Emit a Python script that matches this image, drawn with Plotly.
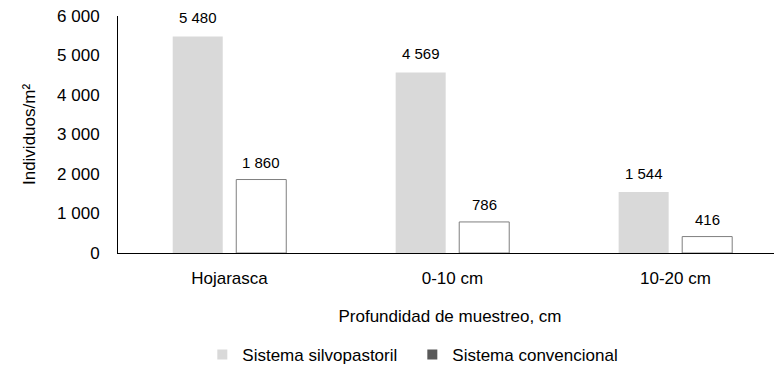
import plotly.graph_objects as go

categories = ["Hojarasca", "0-10 cm", "10-20 cm"]
silvopastoril = [5480, 4569, 1544]
convencional = [1860, 786, 416]
series_names = ["Sistema silvopastoril", "Sistema convencional"]
y_ticks = [0, 1000, 2000, 3000, 4000, 5000, 6000]

font_family = "Liberation Sans, Arial, sans-serif"
silvo_color = "#d9d9d9"
conv_fill = "#ffffff"
conv_line = "#7f7f7f"
conv_legend = "#595959"


def fmt(v):
    return f"{v:,}".replace(",", " ")


fig = go.Figure()
fig.add_trace(go.Bar(
    x=categories, y=silvopastoril, name=series_names[0],
    marker=dict(color=silvo_color, line=dict(width=0)),
    showlegend=False,
))
fig.add_trace(go.Bar(
    x=categories, y=convencional, name=series_names[1],
    marker=dict(color=conv_fill, line=dict(width=1, color=conv_line)),
    showlegend=False,
))
# legend entries (square swatches as in the reference)
fig.add_trace(go.Scatter(
    x=[None], y=[None], mode="markers", name=series_names[0],
    marker=dict(symbol="square", size=10, color=silvo_color), showlegend=True,
))
fig.add_trace(go.Scatter(
    x=[None], y=[None], mode="markers", name=series_names[1],
    marker=dict(symbol="square", size=10, color=conv_legend), showlegend=True,
))

# value labels above bars
group_shift = 31.75
for cat, v in zip(categories, silvopastoril):
    fig.add_annotation(x=cat, y=v, text=fmt(v), showarrow=False,
                       xshift=-group_shift, yshift=19, yanchor="middle",
                       font=dict(size=15, color="#000000"))
for cat, v in zip(categories, convencional):
    fig.add_annotation(x=cat, y=v, text=fmt(v), showarrow=False,
                       xshift=group_shift, yshift=17, yanchor="middle",
                       font=dict(size=15, color="#000000"))

# the page body has an 8px default margin, so the figure is 8px smaller
fig.update_layout(
    width=774, height=362,
    margin=dict(l=110, r=0, t=8, b=117, autoexpand=False),
    paper_bgcolor="white", plot_bgcolor="white",
    separators=", ",
    font=dict(family=font_family, size=17, color="#000000"),
    barmode="group", bargap=0.43, bargroupgap=0.213,
    showlegend=True,
    legend=dict(
        orientation="h", x=0.127, xanchor="left", y=-0.43, yanchor="middle",
        font=dict(size=17), traceorder="normal",
        entrywidth=165, entrywidthmode="pixels",
        bgcolor="rgba(0,0,0,0)",
    ),
)
fig.update_xaxes(
    type="category", range=[-0.5, 2.478], automargin=False,
    showline=True, linecolor="#000000", linewidth=1,
    showgrid=False, ticks="", ticklabelstandoff=10,
    tickfont=dict(size=17),
    title=dict(text="Profundidad de muestreo, cm", font=dict(size=17), standoff=22),
)
fig.update_yaxes(
    range=[0, 6000], tickvals=y_ticks, tickformat=",d", separatethousands=True,
    automargin=False, ticklabeloverflow="allow",
    showline=True, linecolor="#000000", linewidth=1,
    showgrid=False, zeroline=False, ticks="", ticklabelstandoff=14,
    tickfont=dict(size=17),
    title=dict(text="Individuos/m²", font=dict(size=17), standoff=17),
)

fig.write_html("out.html")
